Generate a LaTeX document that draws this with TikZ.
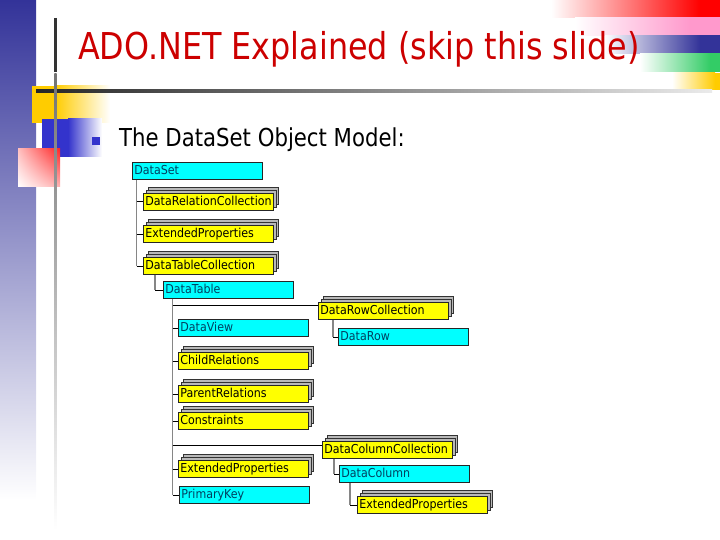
\documentclass[tikz,border=0pt]{standalone}
\usepackage{fontspec}
\setmainfont{DejaVu Sans}
\newfontfamily\titlefont[FakeStretch=0.86]{DejaVu Sans}
\newfontfamily\boxfont[FakeStretch=0.9]{DejaVu Sans}
\usetikzlibrary{shadows,shadings}
\definecolor{titlered}{RGB}{204,0,0}
\definecolor{barblue}{RGB}{51,51,153}
\definecolor{slideblue}{RGB}{51,51,204}
\definecolor{slideyellow}{RGB}{255,204,0}
\definecolor{stripered}{RGB}{255,0,0}
\definecolor{stripepink}{RGB}{255,153,204}
\definecolor{stripeblue}{RGB}{51,51,153}
\definecolor{stripegreen}{RGB}{51,204,102}
\definecolor{boxcyan}{RGB}{0,255,255}
\definecolor{boxyellow}{RGB}{255,255,0}
\definecolor{cyantext}{RGB}{0,64,96}
\begin{document}
\begin{tikzpicture}[x=1pt,y=-1pt,
  cbox/.style={draw=black!85, line width=0.8pt, fill=boxcyan, anchor=north west,
    minimum height=17pt, inner xsep=2pt, inner ysep=0pt, text width=126pt, align=left,
    font=\boxfont\fontsize{12.3}{13}\selectfont, text=cyantext, text height=9pt, text depth=2.5pt},
  ybox/.style={cbox, fill=boxyellow, text=black,
    double copy shadow={shadow xshift=2.5pt, shadow yshift=3pt, fill=gray!55, draw=black!80, line width=0.6pt}},
  trunk/.style={draw=gray!95, line width=1.8pt},
  tick/.style={draw=black, line width=0.8pt}]
\useasboundingbox (0,0) rectangle (720,540);
% --- slide decoration ---
\shade[top color=barblue, bottom color=white] (0,0) rectangle (36,500);
\shade[left color=white, right color=stripered] (551,0) rectangle (700,17.5);
\fill[stripered] (699.5,0) rectangle (720,17.5);
\shade[left color=white, right color=stripepink] (575,17.5) rectangle (690,35.5);
\fill[stripepink] (689.5,17.5) rectangle (720,35.5);
\shade[left color=white, right color=stripeblue] (605,35.5) rectangle (700,53.5);
\fill[stripeblue] (699.5,35.5) rectangle (720,53.5);
\shade[left color=white, right color=stripegreen] (640,53.5) rectangle (710,72);
\fill[stripegreen] (709.5,53.5) rectangle (720,72);
\shade[left color=white, right color=slideyellow] (672,73) rectangle (715,90);
\fill[slideyellow] (714.5,73) rectangle (720,90);
\fill[slideyellow] (32,86) rectangle (55.5,123);
\shade[left color=slideyellow, right color=white] (55,86) rectangle (110,123);
\fill[slideblue] (42,119) rectangle (68.5,157);
\shade[left color=slideblue, right color=white] (68,119) rectangle (102,157);
\shade[upper left=red!25!white, upper right=red!85!white, lower left=white, lower right=red!30!white] (18,149) rectangle (60,187);
\shade[left color=black!85, middle color=black!60, right color=black!8] (36,89.8) rectangle (712,92.2);
\draw[line width=2.5pt, black!80] (55.5,18) -- (55.5,72);
\shade[top color=black!55, bottom color=white] (54.3,74) rectangle (56.7,530);
\fill[slideblue] (92,137) rectangle (100,145);
\node[anchor=base west, inner sep=0pt, font=\titlefont\fontsize{37}{40}\selectfont, text=titlered] (title) at (78,60) {ADO.NET Explained (skip this slide)};
\node[anchor=base west, inner sep=0pt, font=\titlefont\fontsize{24.7}{28}\selectfont] (sub) at (119,147) {The DataSet Object Model:};
% --- object model ---
\node[cbox] (ds) at (132,162) {DataSet};
\node[ybox] (drc) at (143,193) {DataRelationCollection};
\node[ybox] (ep1) at (143,225) {ExtendedProperties};
\node[ybox] (dtc) at (143,257) {DataTableCollection};
\node[cbox] (dt) at (163,281) {DataTable};
\node[cbox] (dv) at (178,319) {DataView};
\node[ybox] (cr) at (178,352) {ChildRelations};
\node[ybox] (pr) at (178,385) {ParentRelations};
\node[ybox] (con) at (178,412) {Constraints};
\node[ybox] (ep2) at (178,460) {ExtendedProperties};
\node[cbox] (pk) at (179,486) {PrimaryKey};
\node[ybox] (drowc) at (318,302) {DataRowCollection};
\node[cbox] (drow) at (338,328) {DataRow};
\node[ybox] (dcc) at (322,441) {DataColumnCollection};
\node[cbox] (dcol) at (339,465) {DataColumn};
\node[ybox] (ep3) at (357,496) {ExtendedProperties};
% connectors
\coordinate (tA) at ([xshift=4.5pt]ds.south west);
\draw[trunk] (tA) -- (tA |- dtc.west);
\foreach \n in {drc,ep1,dtc} \draw[tick] (tA |- \n.west) -- (\n.west);
\coordinate (tB) at ([xshift=12pt]dtc.south west);
\draw[trunk] (tB) -- (tB |- dt.west);
\draw[tick] (tB |- dt.west) -- (dt.west);
\coordinate (tC) at ([xshift=9.5pt]dt.south west);
\draw[trunk] (tC) -- (tC |- pk.west);
\foreach \n in {dv,cr,pr,con,ep2,pk} \draw[tick] (tC |- \n.west) -- (\n.west);
\coordinate (inR) at ([yshift=5.5pt]drowc.west);
\draw[tick] (tC |- inR) -- (inR);
\coordinate (inC) at ([yshift=4.5pt]dcc.west);
\draw[tick] (tC |- inC) -- (inC);
\coordinate (tD) at ([xshift=15pt]drowc.south west);
\draw[trunk] (tD) -- (tD |- drow.west);
\draw[tick] (tD |- drow.west) -- (drow.west);
\coordinate (tE) at ([xshift=12pt]dcc.south west);
\draw[trunk] (tE) -- (tE |- dcol.west);
\draw[tick] (tE |- dcol.west) -- (dcol.west);
\coordinate (tF) at ([xshift=11pt]dcol.south west);
\draw[trunk] (tF) -- (tF |- ep3.west);
\draw[tick] (tF |- ep3.west) -- (ep3.west);
\end{tikzpicture}
\end{document}
